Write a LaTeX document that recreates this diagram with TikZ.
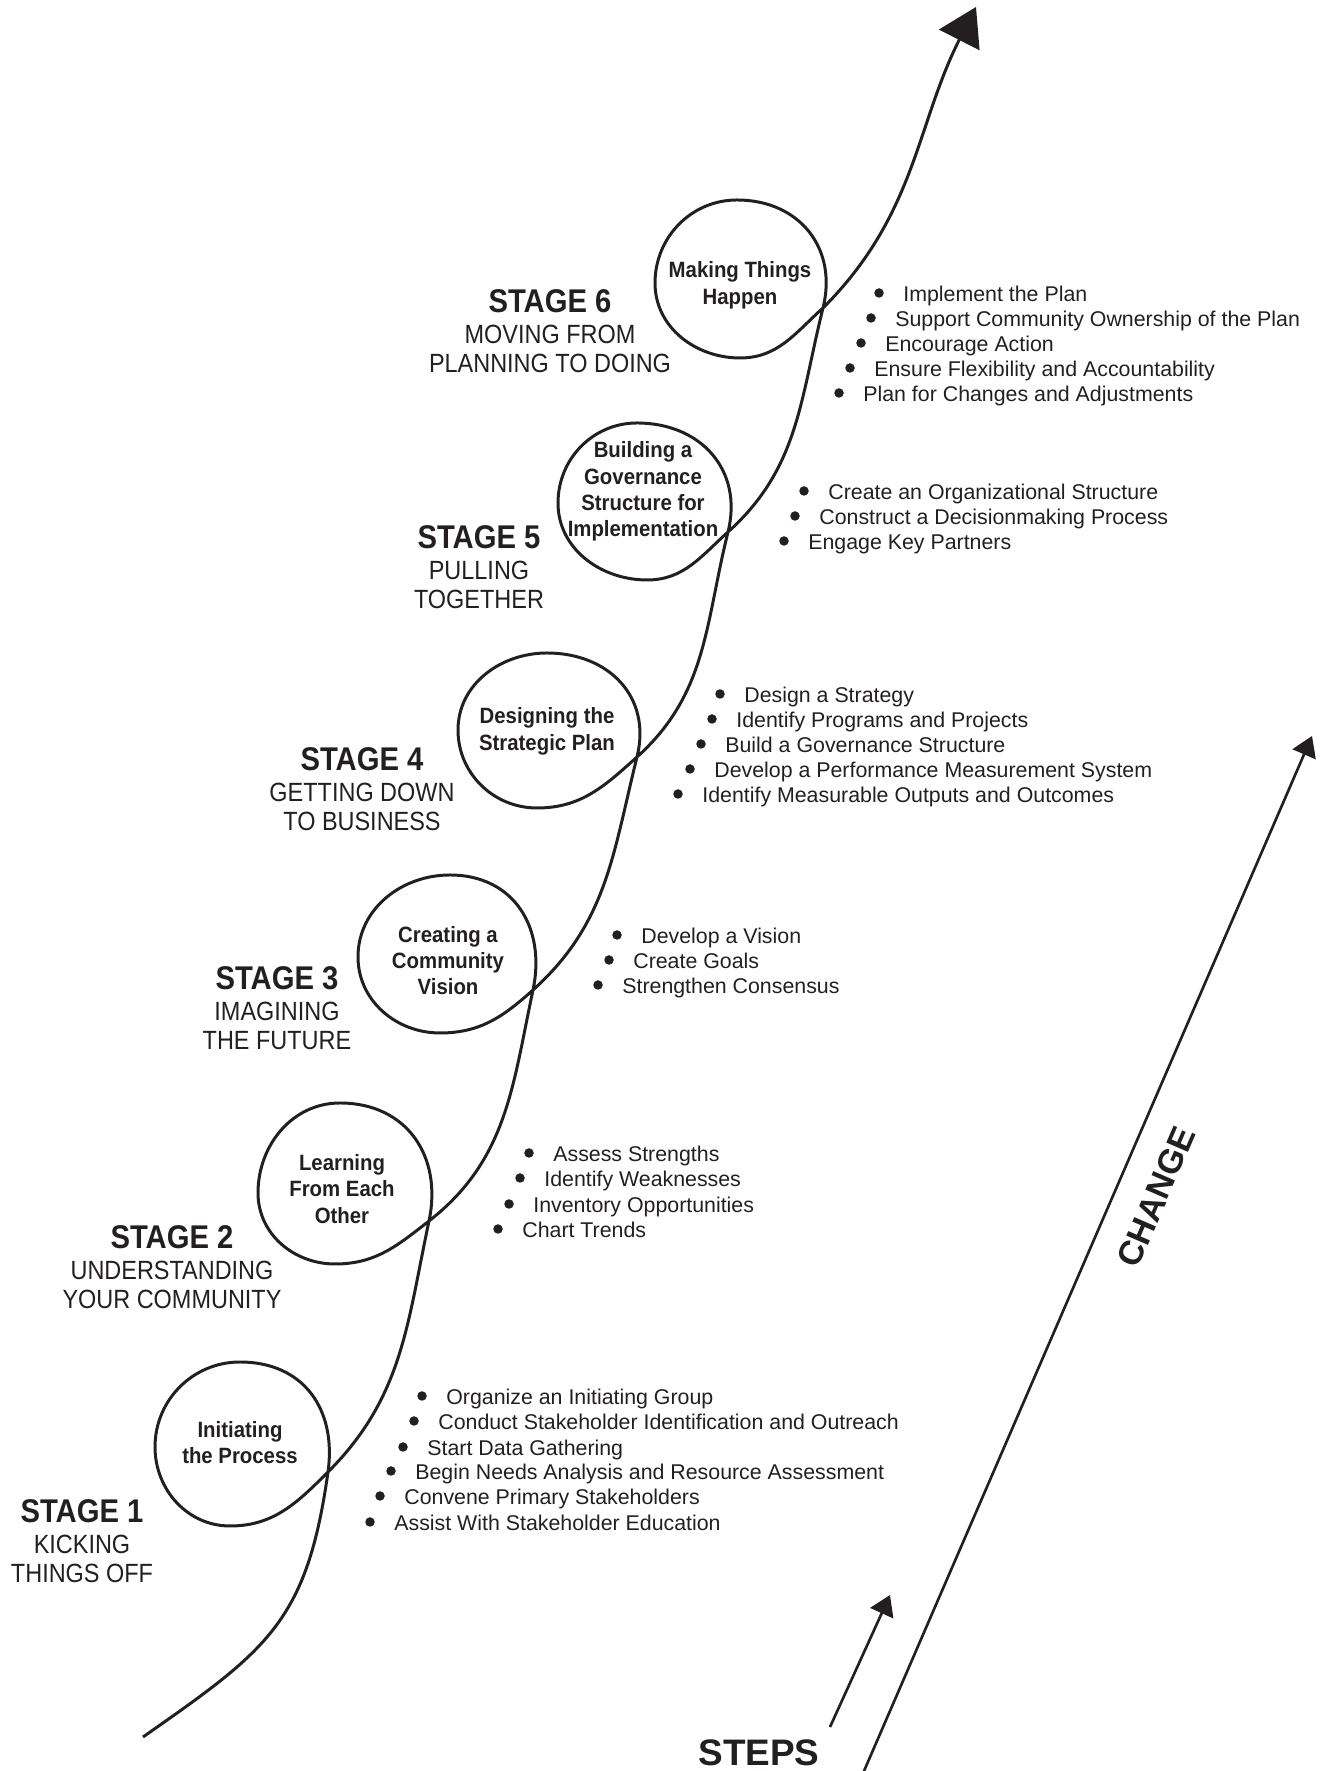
\documentclass[tikz,border=0pt]{standalone}
\usepackage{fontspec}
\setmainfont{Liberation Sans}
\newfontfamily\narrowsans{Liberation Sans}[FakeStretch=0.89]
\newfontfamily\loopsans{Liberation Sans}[FakeStretch=0.92]
\usetikzlibrary{arrows.meta}
\definecolor{ink}{RGB}{35,31,32}

\tikzset{
  curve/.style={draw=ink, line width=1.7pt},
  thin arrow/.style={draw=ink, line width=1.5pt, -{Triangle[length=0.4cm,width=0.5cm]}},
  stagehead/.style={font=\narrowsans\bfseries\fontsize{18.7}{20}\selectfont, text=ink, anchor=base, inner sep=0pt},
  stagesub/.style={font=\narrowsans\fontsize{15}{17}\selectfont, text=ink, anchor=base, inner sep=0pt},
  looptext/.style={font=\loopsans\bfseries\fontsize{12.6}{15}\selectfont, text=ink, anchor=base, inner sep=0pt},
  item/.style={font=\fontsize{12.15}{14}\selectfont, text=ink, anchor=base west, inner sep=0pt},
  dot/.style={circle, fill=ink, inner sep=0pt, minimum size=0.19cm},
  biglabel/.style={font=\bfseries\fontsize{21}{24}\selectfont, text=ink, inner sep=0pt},
  axislabel/.style={font=\bfseries\fontsize{19.5}{22}\selectfont, text=ink, inner sep=0pt}
}

% bullet item: name, x of text start, baseline, text
\newcommand\bul[4]{%
  \node[dot] (#1d) at (#2-24,#3+9) {};
  \node[item] (#1) at (#2,#3) {#4};}

% stage caption: name, x, baseline of the heading, heading, two lines below
\newcommand\stagecap[6]{%
  \node[stagehead] (#1h) at (#2,#3) {#4};
  \node[stagesub] (#1a) at (#2,#3-31) {#5};
  \node[stagesub] (#1b) at (#2,#3-60) {#6};}

\begin{document}
\begin{tikzpicture}[x=0.02cm,y=0.02cm]
\useasboundingbox (0,0) rectangle (1321,1771);

% points of the spiralling path
\coordinate (s0) at (143,34);
\coordinate (c1) at (328,299);  \coordinate (t1) at (240,409);  \coordinate (w1) at (155,324);  \coordinate (b1) at (230,245);
\coordinate (c2) at (429,550);  \coordinate (t2) at (340,668);  \coordinate (w2) at (258,578);  \coordinate (b2) at (335,507);
\coordinate (c3) at (533,781);  \coordinate (t3) at (450,896);  \coordinate (w3) at (358,814);  \coordinate (b3) at (440,738);
\coordinate (c4) at (637,1014); \coordinate (t4) at (547,1118); \coordinate (w4) at (458,1041); \coordinate (b4) at (537,963);
\coordinate (c5) at (728,1239); \coordinate (t5) at (637,1348); \coordinate (w5) at (558,1268); \coordinate (b5) at (647,1191);
\coordinate (c6) at (823,1463); \coordinate (t6) at (737,1571); \coordinate (w6) at (655,1488); \coordinate (b6) at (740,1413);
\coordinate (tip) at (976,1764);

\draw[curve, -{Triangle[length=0.74cm,width=0.9cm]}]
  (s0) to[out=35,in=262,looseness=1.2] (c1)
  to[out=82,in=0,looseness=1.15] (t1) to[out=180,in=90] (w1) to[out=270,in=180] (b1) to[out=0,in=225] (c1)
  to[out=45,in=258] (c2)
  to[out=78,in=0,looseness=1.15] (t2) to[out=180,in=90] (w2) to[out=270,in=180] (b2) to[out=0,in=218] (c2)
  to[out=38,in=258] (c3)
  to[out=78,in=0,looseness=1.15] (t3) to[out=180,in=90] (w3) to[out=270,in=180] (b3) to[out=0,in=222] (c3)
  to[out=42,in=256] (c4)
  to[out=76,in=0,looseness=1.15] (t4) to[out=180,in=90] (w4) to[out=270,in=180] (b4) to[out=0,in=222] (c4)
  to[out=42,in=256] (c5)
  to[out=76,in=0,looseness=1.15] (t5) to[out=180,in=90] (w5) to[out=270,in=180] (b5) to[out=0,in=222] (c5)
  to[out=42,in=256] (c6)
  to[out=76,in=0,looseness=1.15] (t6) to[out=180,in=90] (w6) to[out=270,in=180] (b6) to[out=0,in=222] (c6)
  to[out=45,in=243] (tip);

% texts inside the loops
\node[looptext] (p1a) at (240,333) {Initiating};
\node[looptext] (p1b) at (240,307) {the Process};
\node[looptext] (p2a) at (342,600) {Learning};
\node[looptext] (p2b) at (342,574) {From Each};
\node[looptext] (p2c) at (342,547) {Other};
\node[looptext] (p3a) at (448,828) {Creating a};
\node[looptext] (p3b) at (448,802) {Community};
\node[looptext] (p3c) at (448,776) {Vision};
\node[looptext] (p4a) at (547,1047) {Designing the};
\node[looptext] (p4b) at (547,1020) {Strategic Plan};
\node[looptext] (p5a) at (643,1313) {Building a};
\node[looptext] (p5b) at (643,1286) {Governance};
\node[looptext] (p5c) at (643,1260) {Structure for};
\node[looptext] (p5d) at (643,1234) {Implementation};
\node[looptext] (p6a) at (740,1493) {Making Things};
\node[looptext] (p6b) at (740,1466) {Happen};

% stage captions
\stagecap{st1}{82}{248}{STAGE 1}{KICKING}{THINGS OFF}
\stagecap{st2}{172}{522.5}{STAGE 2}{UNDERSTANDING}{YOUR COMMUNITY}
\stagecap{st3}{277}{781.5}{STAGE 3}{IMAGINING}{THE FUTURE}
\stagecap{st4}{362}{1000.5}{STAGE 4}{GETTING DOWN}{TO BUSINESS}
\stagecap{st5}{479}{1222}{STAGE 5}{PULLING}{TOGETHER}
\stagecap{st6}{550}{1458.5}{STAGE 6}{MOVING FROM}{PLANNING TO DOING}

% task lists
\bul{a1}{446}{366}{Organize an Initiating Group}
\bul{a2}{438}{341}{Conduct Stakeholder Identification and Outreach}
\bul{a3}{427}{315}{Start Data Gathering}
\bul{a4}{415}{291}{Begin Needs Analysis and Resource Assessment}
\bul{a5}{404}{266}{Convene Primary Stakeholders}
\bul{a6}{394}{240}{Assist With Stakeholder Education}

\bul{b1}{553}{609}{Assess Strengths}
\bul{b2}{544}{584}{Identify Weaknesses}
\bul{b3}{533}{558}{Inventory Opportunities}
\bul{b4}{522}{533}{Chart Trends}

\bul{e1}{641}{827}{Develop a Vision}
\bul{e2}{633}{802}{Create Goals}
\bul{e3}{622}{777}{Strengthen Consensus}

\bul{f1}{744}{1068}{Design a Strategy}
\bul{f2}{736}{1043}{Identify Programs and Projects}
\bul{f3}{725}{1018}{Build a Governance Structure}
\bul{f4}{714}{993}{Develop a Performance Measurement System}
\bul{f5}{702}{968}{Identify Measurable Outputs and Outcomes}

\bul{g1}{828}{1271}{Create an Organizational Structure}
\bul{g2}{819}{1246}{Construct a Decisionmaking Process}
\bul{g3}{808}{1221}{Engage Key Partners}

\bul{h1}{903}{1469}{Implement the Plan}
\bul{h2}{895}{1444}{Support Community Ownership of the Plan}
\bul{h3}{885}{1419}{Encourage Action}
\bul{h4}{874}{1394}{Ensure Flexibility and Accountability}
\bul{h5}{863}{1369}{Plan for Changes and Adjustments}

% axes: steps and change
\coordinate (stepsfoot) at (830,44);
\coordinate (stepshead) at (890,176);
\draw[thin arrow] (stepsfoot) -- (stepshead);
\node[biglabel, anchor=base] (steps) at (759,6) {STEPS};

\coordinate (changefoot) at (864,0);
\coordinate (changehead) at (1312,1035);
\draw[thin arrow] (changefoot) -- (changehead);
\node[axislabel, rotate=66.6] (change) at (1156,574) {CHANGE};
\end{tikzpicture}
\end{document}
